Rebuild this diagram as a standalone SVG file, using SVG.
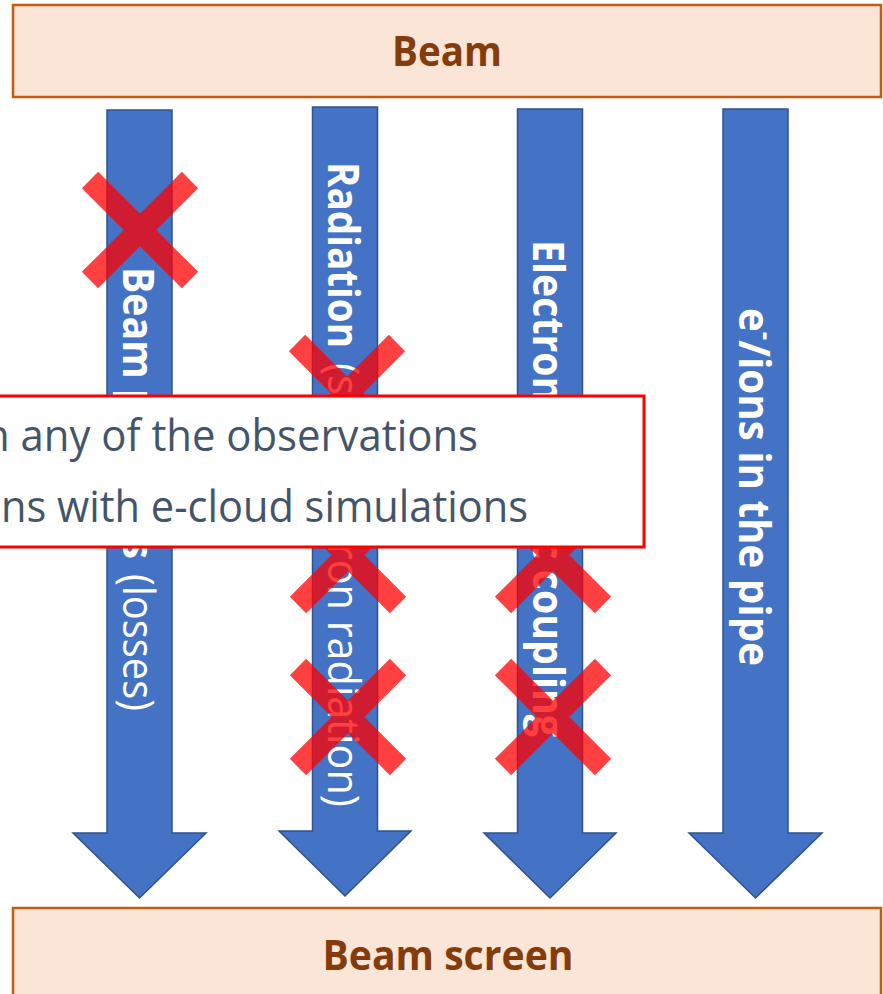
<svg xmlns="http://www.w3.org/2000/svg" width="883" height="994" viewBox="0 0 883 994">
<style>
.box{fill:#FBE5D6;stroke:#C55A11;stroke-width:2.5}
.boxt{font-family:"Open Sans","Liberation Sans",sans-serif;font-weight:700;font-size:41px;fill:#843C0C;text-anchor:middle}
.arr{fill:#4472C4;stroke:#2F528F;stroke-width:1.5}
.at{font-family:"Open Sans","Liberation Sans",sans-serif;font-size:43px;fill:#FFFFFF}
.b{font-weight:700}
.r{font-weight:400}
.x{fill:none;stroke:#FF0000;stroke-opacity:0.75;stroke-width:23;stroke-linecap:butt}
.note{fill:#FFFFFF;stroke:#FF0000;stroke-width:3}
.nt{font-family:"Open Sans","Liberation Sans",sans-serif;font-size:44px;fill:#44546A}
</style>
<rect width="883" height="994" fill="#FFFFFF"/>
<g id="beam">
<rect class="box" x="13" y="5" width="868" height="92"/>
<text class="boxt" x="447" y="66" textLength="110" lengthAdjust="spacingAndGlyphs">Beam</text>
</g>
<g id="beam-screen">
<rect class="box" x="13" y="908" width="868" height="100"/>
<text class="boxt" x="448" y="970" textLength="251" lengthAdjust="spacingAndGlyphs">Beam screen</text>
</g>
<g id="connectors">
<g id="arrow-losses">
<path class="arr" d="M107,110 H172 V833 H206 L139.5,898 L73,833 H107 Z"/>
<text class="at b" transform="translate(123,267) rotate(90)" textLength="292" lengthAdjust="spacingAndGlyphs">Beam particles</text>
<text class="at r" transform="translate(123,574) rotate(90)" textLength="137" lengthAdjust="spacingAndGlyphs">(losses)</text>
</g>
<g id="arrow-radiation">
<path class="arr" d="M312.5,107 H377.5 V831 H411 L345,896 L279,831 H312.5 Z"/>
<text class="at b" transform="translate(328,162) rotate(90)" textLength="186" lengthAdjust="spacingAndGlyphs">Radiation</text>
<text class="at r" transform="translate(328,363) rotate(90)" textLength="444" lengthAdjust="spacingAndGlyphs">(synchrotron radiation)</text>
</g>
<g id="arrow-coupling">
<path class="arr" d="M517.5,109 H582.5 V833 H616 L550,898 L484,833 H517.5 Z"/>
<text class="at b" transform="translate(533,240) rotate(90)" textLength="497" lengthAdjust="spacingAndGlyphs">Electromagnetic coupling</text>
</g>
<g id="arrow-ecloud">
<path class="arr" d="M723,109 H788 V833 H822 L755.5,898 L689,833 H723 Z"/>
<text class="at b" transform="translate(739,308) rotate(90)" textLength="358" lengthAdjust="spacingAndGlyphs">e<tspan dy="-18" font-size="28">-</tspan><tspan dy="18">/ions in the pipe</tspan></text>
</g>
</g>
<g id="crosses">
<path class="x" d="M90,180 L190,280 M190,180 L90,280"/>
<path class="x" d="M297,343 L397,443 M397,343 L297,443"/>
<path class="x" d="M298,505 L398,605 M398,505 L298,605"/>
<path class="x" d="M298,667 L398,767 M398,667 L298,767"/>
<path class="x" d="M503,505 L603,605 M603,505 L503,605"/>
<path class="x" d="M503,667 L603,767 M603,667 L503,767"/>
</g>
<g id="note">
<rect class="note" x="-10" y="396" width="654" height="151"/>
<text class="nt" x="-16" y="451" textLength="494" lengthAdjust="spacingAndGlyphs">n any of the observations</text>
<text class="nt" x="1" y="522" textLength="527" lengthAdjust="spacingAndGlyphs">ns with e-cloud simulations</text>
</g>
</svg>
